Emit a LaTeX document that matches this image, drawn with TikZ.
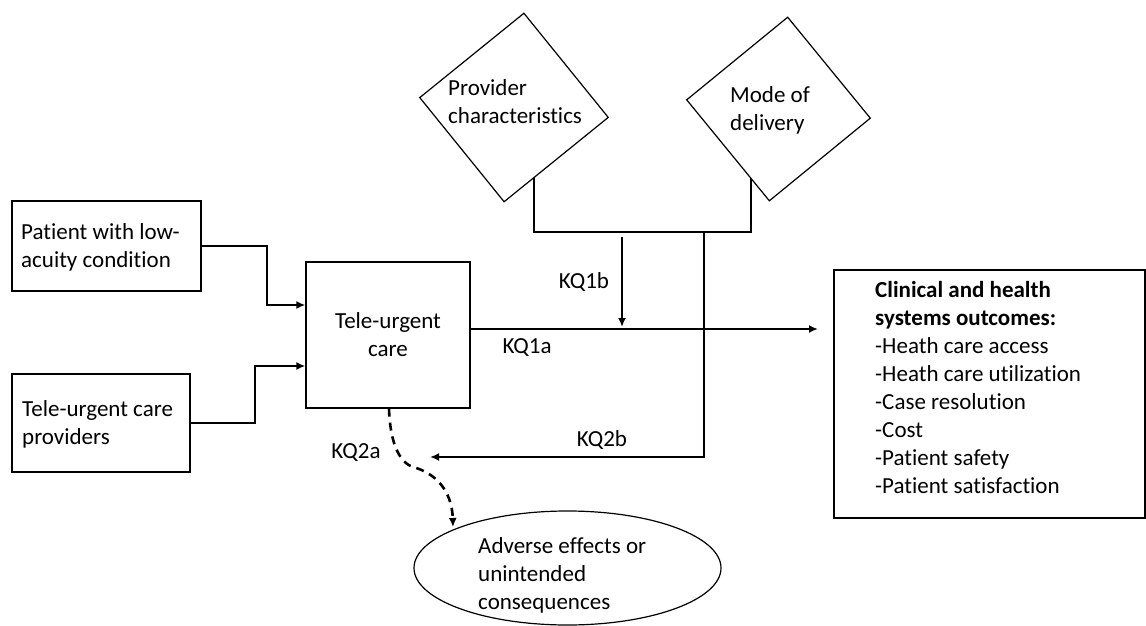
\documentclass[tikz,border=0pt]{standalone}
\usepackage{fontspec}
\setmainfont{Carlito}[Ligatures=NoCommon]
\usetikzlibrary{arrows.meta,shapes.geometric,backgrounds}

\tikzset{
  txt/.style={font=\fontsize{23pt}{28pt}\selectfont, inner sep=0pt, text=black},
  lbl/.style={txt, anchor=west, align=left},
  box/.style={draw, line width=1.3pt, fill=white, inner sep=0pt},
  diam/.style={diamond, draw, line width=1.2pt, fill=white, inner sep=0pt},
  conn/.style={line width=2.6pt},
  arr/.style={conn, -{Latex[length=9pt,width=8pt]}},
  dconn/.style={arr, dash pattern=on 8pt off 6pt}
}

\begin{document}
\begin{tikzpicture}[x=1pt, y=-1pt]
\useasboundingbox (0,0) rectangle (1146,626);

% moderator diamonds
\node[diam, minimum width=190pt, minimum height=190pt, rotate=-6] (prov) at (514,107.5) {};
\node[diam, minimum width=185pt, minimum height=185pt, rotate=-5.7] (mode) at (778.5,109) {};
\node[lbl] (provtxt) at (448,102) {Provider\\characteristics};
\node[lbl] (modetxt) at (730,110) {Mode of\\delivery};

% boxes
\node[box, minimum width=189pt, minimum height=90pt] (pat) at (106.5,246) {};
\node[lbl] (pattxt) at (21,247) {Patient with low-\\acuity condition};
\node[box, minimum width=178pt, minimum height=98pt] (prv) at (101,423) {};
\node[lbl] (prvtxt) at (22,424) {Tele-urgent care\\providers};
\node[box, txt, align=center, minimum width=164pt, minimum height=146pt] (tele) at (388,335) {Tele-urgent\\care};
\node[box, minimum width=311pt, minimum height=248pt] (out) at (989.5,394) {};
\node[lbl] (outtxt) at (875,387.5) {\textbf{Clinical and health}\\\textbf{systems outcomes:}\\-Heath care access\\-Heath care utilization\\-Case resolution\\-Cost\\-Patient safety\\-Patient satisfaction};
\node[ellipse, draw, line width=1.2pt, minimum width=307pt, minimum height=114pt, inner sep=0pt] (adv) at (567.5,568) {};
\node[lbl] (advtxt) at (478,575) {Adverse effects or\\unintended\\consequences};

% key question labels
\node[txt] (kq1b) at (584,282) {KQ1b};
\node[txt] (kq1a) at (527,348) {KQ1a};
\node[txt] (kq2b) at (602,440) {KQ2b};
\node[txt] (kq2a) at (356,453) {KQ2a};

% junction points
\coordinate (pj) at (534,232);
\coordinate (mj) at (751,232);
\coordinate (vj) at (704,232);
\coordinate (vb) at (704,457);
\coordinate (kq2tip) at (430,457);
\coordinate (kb0) at (622,237);
\coordinate (kb1) at (622,327);
\coordinate (kq1tip) at (818,329);
\coordinate (pb) at (267,305);
\coordinate (rb) at (255,366);
\coordinate (d0) at (389,408);
\coordinate (dm) at (413,467);
\coordinate (d1) at (453,527);

% bracket joining the two diamonds (hidden under their fill)
\begin{scope}[on background layer]
  \draw[conn, line join=miter] (prov.center -| pj) -- (pj) -- (mj) -- (mode.center -| mj);
\end{scope}

% connectors
\draw[arr] (pat.east) -| (pb) -- (pb -| tele.west);
\draw[arr] (prv.east) -| (rb) -- (rb -| tele.west);
\draw[arr] (tele.east |- kq1tip) -- (kq1tip);
\draw[arr] (kb0) -- (kb1);
\draw[arr, line join=miter] (vj) -- (vb) -- (kq2tip);
\draw[dconn] (tele.south -| d0) .. controls (390,440) and (398,462) .. (dm)
  .. controls (435,473) and (452,490) .. (d1);
\end{tikzpicture}
\end{document}
